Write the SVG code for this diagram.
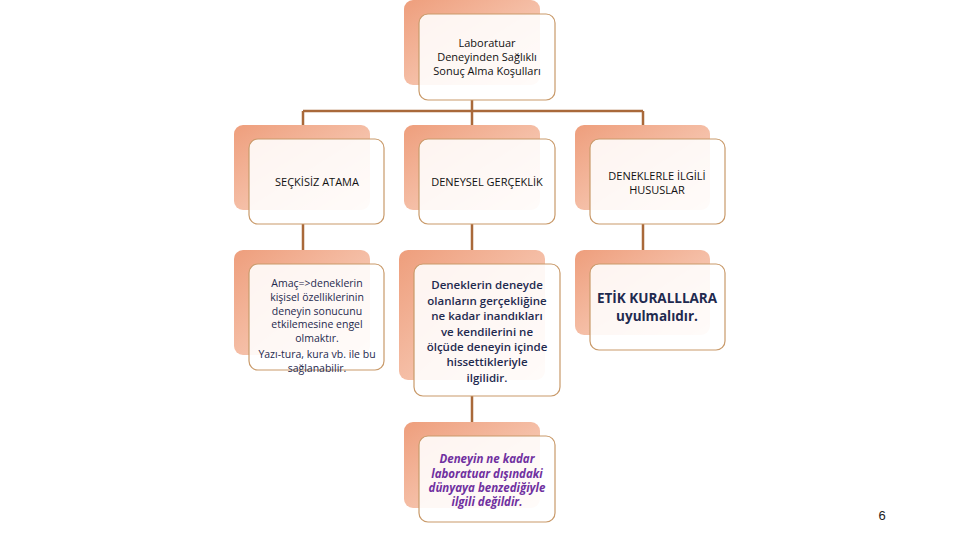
<svg xmlns="http://www.w3.org/2000/svg" width="960" height="540" viewBox="0 0 960 540">
<defs>
<linearGradient id="g" x1="0" y1="0" x2="1" y2="1">
<stop offset="0" stop-color="#EE9E7C"/><stop offset="1" stop-color="#FBDCCD"/>
</linearGradient>
<style>
.b{fill:url(#g)}
.f{fill:#FFFFFF;fill-opacity:0.88;stroke:#C99A6A;stroke-width:1.2}
.c{stroke:#A9693A;stroke-width:2.5;fill:none}
text{font-family:"Liberation Sans","Open Sans",sans-serif;text-anchor:middle}
.t{font-family:"Open Sans","Liberation Sans",sans-serif;font-size:11px;fill:#111}
.n{font-family:"Open Sans","Liberation Sans",sans-serif;font-size:13.5px;font-weight:bold;fill:#1F2A4F}
.m{font-family:"Open Sans","Liberation Sans",sans-serif;font-size:11.5px;font-weight:600;fill:#1F2A4F}
.s{font-family:"Open Sans","Liberation Sans",sans-serif;font-size:10.5px;fill:#1F2A4F}
.p{font-family:"Open Sans","Liberation Sans",sans-serif;font-size:11.5px;font-style:italic;font-weight:bold;fill:#7030A0}
</style>
</defs>
<rect width="960" height="540" fill="#fff"/>
<g id="connectors">
<path class="c" d="M472 100V111M303 111H643M303 111V139M472 111V139M643 111V139M303 224V264M472 224V264M643 224V264M472 396V436"/>
</g>
<g id="n0"><rect class="b" x="404" y="0" width="136" height="85" rx="9"/><rect class="f" x="419" y="14" width="136" height="86" rx="9"/>
<text class="t" x="487" y="47">Laboratuar</text><text class="t" x="487" y="61">Deneyinden Sağlıklı</text><text class="t" x="487" y="75">Sonuç Alma  Koşulları</text></g>
<g id="n1"><rect class="b" x="234" y="125" width="136" height="85" rx="9"/><rect class="f" x="249" y="139" width="135" height="85" rx="9"/>
<text class="t" x="317" y="186">SEÇKİSİZ ATAMA</text></g>
<g id="n2"><rect class="b" x="404" y="125" width="136" height="85" rx="9"/><rect class="f" x="419" y="139" width="136" height="85" rx="9"/>
<text class="t" x="487" y="186">DENEYSEL GERÇEKLİK</text></g>
<g id="n3"><rect class="b" x="575" y="125" width="135" height="85" rx="9"/><rect class="f" x="590" y="139" width="135" height="85" rx="9"/>
<text class="t" x="657" y="180">DENEKLERLE İLGİLİ</text><text class="t" x="657" y="194">HUSUSLAR</text></g>
<g id="n4"><rect class="b" x="234" y="250" width="136" height="105" rx="9"/><rect class="f" x="249" y="264" width="135" height="106" rx="9"/>
<text class="s" x="317" y="287">Amaç=&gt;deneklerin</text><text class="s" x="317" y="301">kişisel özelliklerinin</text><text class="s" x="317" y="315">deneyin sonucunu</text><text class="s" x="317" y="328">etkilemesine engel</text><text class="s" x="317" y="342">olmaktır.</text><text class="s" x="317" y="358">Yazı-tura, kura vb. ile bu</text><text class="s" x="317" y="372">sağlanabilir.</text></g>
<g id="n5"><rect class="b" x="399" y="250" width="146" height="130" rx="9"/><rect class="f" x="414" y="264" width="146" height="132" rx="9"/>
<text class="m" x="487" y="289">Deneklerin deneyde</text><text class="m" x="487" y="305">olanların gerçekliğine</text><text class="m" x="487" y="320">ne kadar inandıkları</text><text class="m" x="487" y="336">ve kendilerini ne</text><text class="m" x="487" y="351">ölçüde deneyin içinde</text><text class="m" x="487" y="366">hissettikleriyle</text><text class="m" x="487" y="382">ilgilidir.</text></g>
<g id="n6"><rect class="b" x="575" y="250" width="135" height="85" rx="9"/><rect class="f" x="590" y="264" width="135" height="86" rx="9"/>
<text class="n" x="657" y="303">ETİK KURALLLARA</text><text class="n" x="657" y="321">uyulmalıdır.</text></g>
<g id="n7"><rect class="b" x="404" y="422" width="136" height="86" rx="9"/><rect class="f" x="419" y="436" width="136" height="86" rx="9"/>
<text class="p" x="487" y="463">Deneyin ne kadar</text><text class="p" x="487" y="478">laboratuar dışındaki</text><text class="p" x="487" y="492">dünyaya benzediğiyle</text><text class="p" x="487" y="506">ilgili değildir.</text></g>
<text x="882" y="520" font-size="13" fill="#222">6</text>
</svg>
